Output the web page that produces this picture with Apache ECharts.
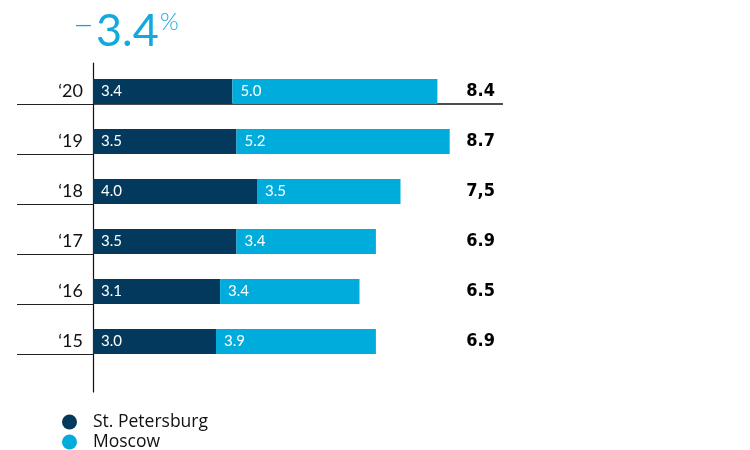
<!DOCTYPE html>
<html>
<head>
<meta charset="utf-8">
<script src="https://cdn.jsdelivr.net/npm/echarts@6/dist/echarts.min.js"></script>
<style>
  html, body { margin: 0; padding: 0; background: #fff; }
  #chart { width: 750px; height: 450px; }
</style>
</head>
<body>
<div id="chart"></div>
<script>
// ---- data (top row first) ----
const yearLabels   = ['\u201820', '\u201819', '\u201818', '\u201817', '\u201816', '\u201815'];
const stPetersburg = [3.4, 3.5, 4.0, 3.5, 3.1, 3.0];
const moscow       = [5.0, 5.2, 3.5, 3.4, 3.4, 3.9];
const totalLabels  = ['8.4', '8.7', '7,5', '6.9', '6.5', '6.9'];
const seriesNames  = ['St. Petersburg', 'Moscow'];
const xMax = 10;

const totals = stPetersburg.map((v, i) => v + moscow[i]);
const change = ((totals[0] - totals[1]) / totals[1] * 100);
const changeText = Math.abs(change).toFixed(1);
const changeSign = change < 0 ? '\u2212' : '+';

const DARK = '#02395d';
const LIGHT = '#00acdc';
const TITLE = '#12a9de';
const FONT = 'Lato, "Noto Sans", sans-serif';
const LEGENDFONT = '"Open Sans", Lato, sans-serif';
const BOLDFONT = '"Liberation Sans Narrow", "DejaVu Sans Condensed", "DejaVu Sans", sans-serif';

const chart = echarts.init(document.getElementById('chart'), null, { renderer: 'canvas' });

const splitColors = yearLabels.map(() => 'transparent').concat(['transparent']);
splitColors[1] = '#111';

chart.setOption({
  animation: false,
  backgroundColor: '#fff',
  textStyle: { fontFamily: FONT },
  title: [
    {
      left: 68, top: 3,
      text: changeSign,
      textStyle: { fontSize: 36, fontWeight: 300, color: TITLE, fontFamily: FONT }
    },
    {
      left: 91, top: 4,
      text: changeText,
      textStyle: { fontSize: 45, fontWeight: 400, color: TITLE, fontFamily: FONT }
    },
    {
      left: 155, top: 5,
      text: '%',
      textStyle: { fontSize: 24, fontWeight: 300, color: TITLE, fontFamily: FONT }
    }
  ],
  legend: {
    data: seriesNames,
    orient: 'vertical',
    left: 62,
    top: 413,
    height: 60,
    icon: 'circle',
    itemWidth: 15,
    itemHeight: 15,
    itemGap: 2,
    padding: 0,
    textStyle: { fontSize: 17.5, color: '#111', fontFamily: LEGENDFONT, padding: [0, 0, 0, 11] }
  },
  grid: [
    { left: 93, right: 247, top: 54, bottom: 96 },
    { left: 93, right: 247, top: 63, bottom: 58 }
  ],
  xAxis: [
    { gridIndex: 0, type: 'value', min: 0, max: xMax, show: false },
    { gridIndex: 1, type: 'value', min: 0, max: xMax, show: false }
  ],
  yAxis: [
    {
      gridIndex: 0,
      type: 'category',
      inverse: true,
      data: yearLabels,
      axisLine: { show: false },
      axisTick: {
        show: true,
        length: 76,
        interval: (idx) => idx !== 0,
        lineStyle: { color: '#222', width: 1.2 }
      },
      splitLine: {
        show: true,
        lineStyle: { color: splitColors, width: 1.5 }
      },
      axisLabel: {
        fontSize: 18,
        color: '#111',
        margin: 10,
        verticalAlign: 'top',
        lineHeight: 25,
        fontFamily: FONT
      }
    },
    {
      gridIndex: 1,
      type: 'value',
      position: 'left',
      axisLine: { show: true, onZero: false, lineStyle: { color: '#111', width: 1.2 } },
      axisTick: { show: false },
      axisLabel: { show: false },
      splitLine: { show: false }
    }
  ],
  series: [
    {
      name: 'spacer',
      type: 'bar',
      xAxisIndex: 0, yAxisIndex: 0,
      barWidth: 25,
      barGap: '0%',
      data: yearLabels.map(() => 0),
      silent: true,
      itemStyle: { color: 'transparent' }
    },
    {
      name: seriesNames[0],
      type: 'bar',
      stack: 'total',
      barWidth: 25,
      barGap: '0%',
      data: stPetersburg,
      itemStyle: { color: DARK },
      label: {
        show: true, position: 'insideLeft', distance: 8,
        color: '#fff', fontSize: 15, fontFamily: FONT,
        formatter: (p) => p.value.toFixed(1)
      }
    },
    {
      name: seriesNames[1],
      type: 'bar',
      stack: 'total',
      barWidth: 25,
      data: moscow,
      itemStyle: { color: LIGHT },
      label: {
        show: true, position: 'insideLeft', distance: 8,
        color: '#fff', fontSize: 15, fontFamily: FONT,
        formatter: (p) => p.value.toFixed(1)
      }
    },
    {
      name: 'total',
      type: 'bar',
      stack: 'total',
      barWidth: 25,
      data: totals.map(t => xMax - t),
      silent: true,
      itemStyle: { color: 'transparent' },
      label: {
        show: true, position: 'insideRight', distance: 8,
        color: '#000', fontSize: 18, fontWeight: 'bold', fontFamily: BOLDFONT,
        formatter: (p) => totalLabels[p.dataIndex]
      }
    }
  ]
});
</script>
</body>
</html>
